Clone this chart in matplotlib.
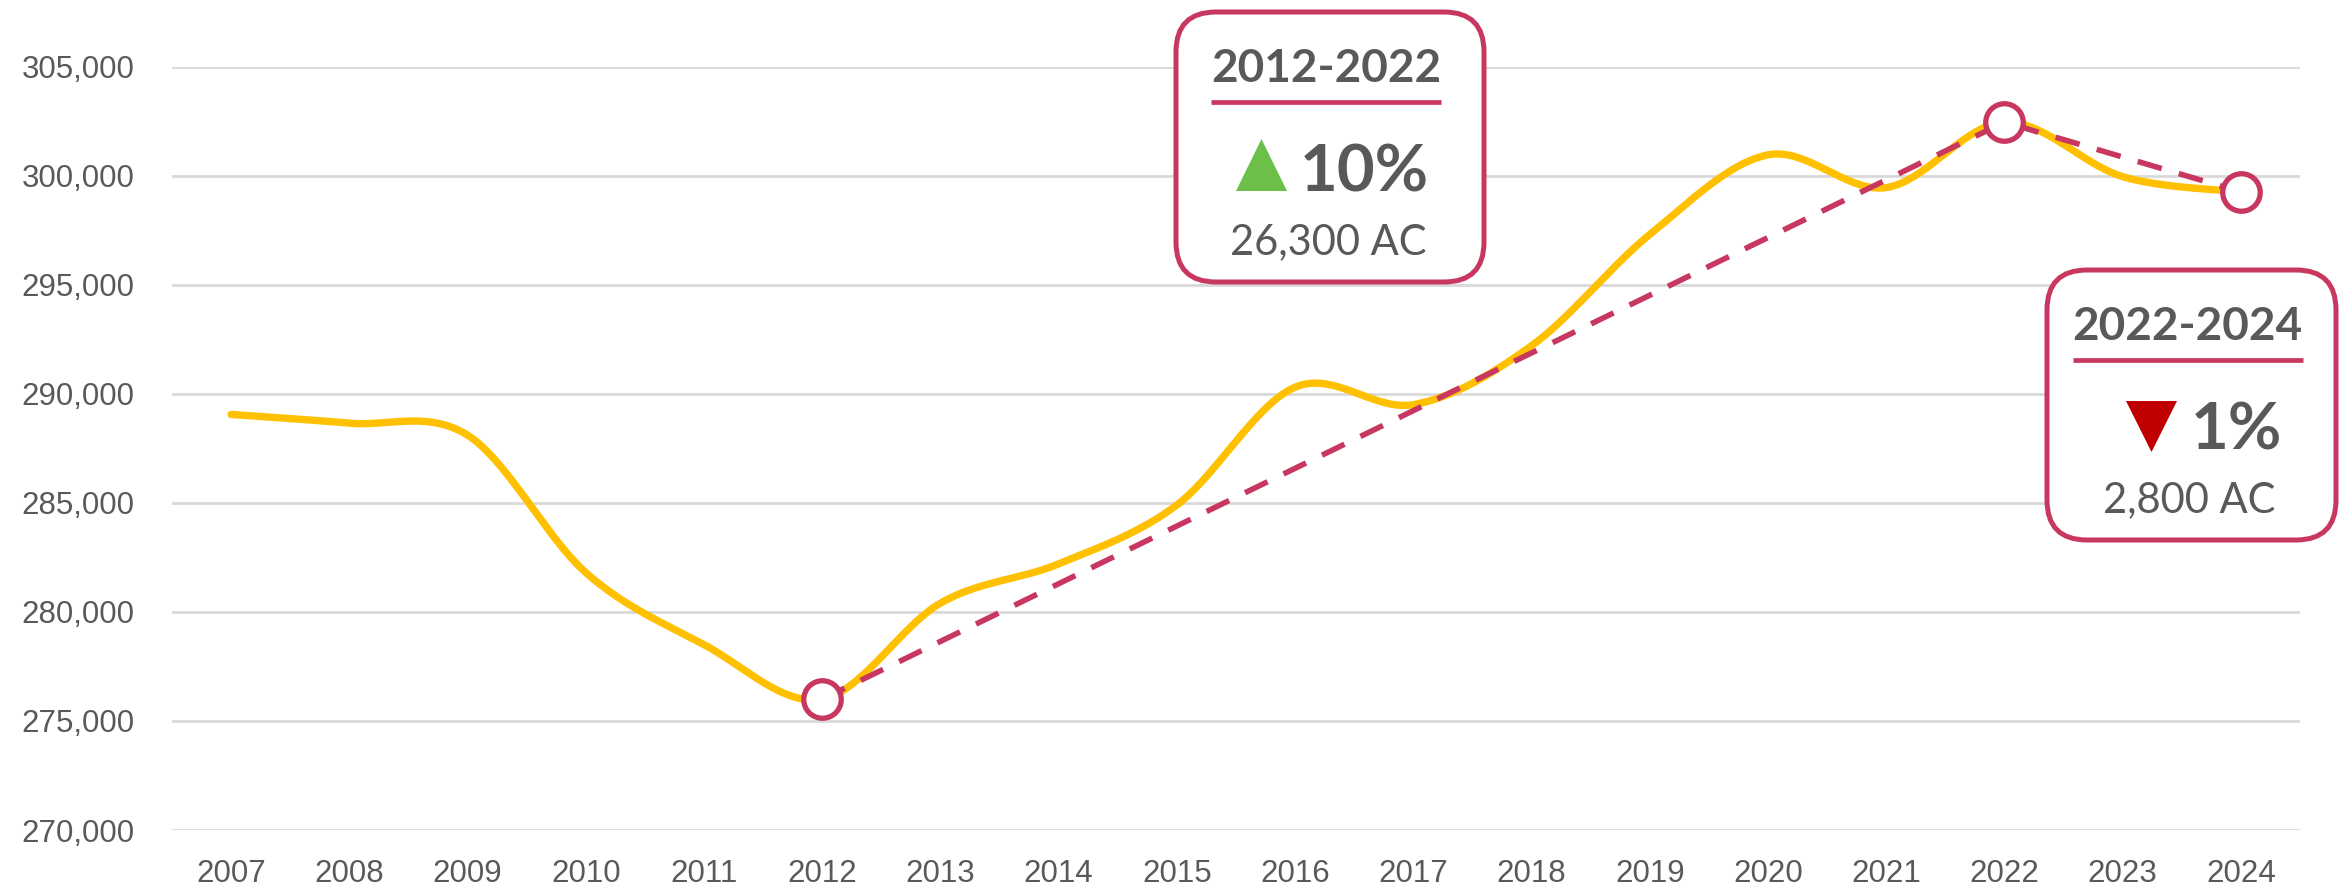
import numpy as np
import matplotlib.pyplot as plt
from matplotlib.patches import FancyBboxPatch, Polygon

# data
years = [str(y) for y in range(2007, 2025)]
values = [289050, 288650, 288100, 281800, 278500, 276000, 280400, 282200, 284900,
          290300, 289500, 292200, 297300, 300950, 299450, 302450, 299950, 299250]

trend_years = ['2012', '2022', '2024']
trend_values = [276000, 302450, 299250]

yticks = list(range(270000, 305001, 5000))

callout_titles = ['2012-2022', '2022-2024']
callout_pcts = ['10%', '1%']
callout_counts = ['26,300 AC', '2,800 AC']
callout_dirs = ['up', 'down']

W, H = 2341, 889
GOLD = '#FFC000'
CRIMSON = '#C8375F'
GREY = '#595959'


def smooth(xs, ys, n=40):
    # excel style smoothed line (bezier through points)
    pts = np.column_stack([xs, ys]).astype(float)
    ext = np.vstack([pts[0], pts, pts[-1]])
    segs = []
    t = np.linspace(0, 1, n)[:, None]
    for i in range(len(pts) - 1):
        p0, p1, p2, p3 = ext[i], ext[i + 1], ext[i + 2], ext[i + 3]
        c1 = p1 + (p2 - p0) / 6
        c2 = p2 - (p3 - p1) / 6
        segs.append((1 - t) ** 3 * p1 + 3 * (1 - t) ** 2 * t * c1 + 3 * (1 - t) * t ** 2 * c2 + t ** 3 * p2)
    s = np.vstack(segs)
    return s[:, 0], s[:, 1]


fig = plt.figure(figsize=(W / 100, H / 100), dpi=100)
ax = fig.add_axes([172 / W, (H - 830) / H, (2300 - 172) / W, (830 - 66.5) / H])

x = np.arange(len(years))
sx, sy = smooth(x, values)
ax.plot(sx, sy, color=GOLD, lw=5.3, solid_capstyle='round', zorder=2)

tx = [years.index(y) for y in trend_years]
ax.plot(tx, trend_values, color=CRIMSON, lw=4.0, dashes=(4.5, 3.2),
        dash_capstyle='butt', zorder=3)
ax.plot(tx, trend_values, 'o', ms=27, mfc='white', mec=CRIMSON, mew=3.8,
        ls='none', zorder=4)

ax.set_xlim(-0.5, len(years) - 0.5)
ax.set_ylim(270000, 305000)
ax.set_xticks(x)
ax.set_xticklabels(years)
ax.set_yticks(yticks)
ax.set_yticklabels([f'{v:,}' for v in yticks])
ax.grid(axis='y', color='#D9D9D9', lw=2)
ax.set_axisbelow(True)
for sp in ax.spines.values():
    sp.set_visible(False)
ax.tick_params(length=0, labelsize=22.5, labelcolor=GREY)
ax.tick_params(axis='y', pad=27)
ax.tick_params(axis='x', pad=21)
for lab in ax.get_xticklabels() + ax.get_yticklabels():
    lab.set_family('Liberation Sans')

# callout boxes drawn in pixel coordinates
ov = fig.add_axes([0, 0, 1, 1], zorder=5)
ov.set_xlim(0, W)
ov.set_ylim(H, 0)
ov.axis('off')
ov.patch.set_alpha(0)

boxes = [(1176, 12, 1484, 282), (2047, 270, 2336, 540)]
for i, (x0, y0, x1, y1) in enumerate(boxes):
    ov.add_patch(FancyBboxPatch((x0, y0), x1 - x0, y1 - y0,
                                boxstyle='round,pad=0,rounding_size=40',
                                fc='white', ec=CRIMSON, lw=3.6))
    cx = (x0 + x1) / 2 - 4
    ov.text(cx, y0 + 70, callout_titles[i], ha='center', va='baseline',
            fontsize=33, fontweight='bold', family='Lato', color=GREY)
    ov.plot([cx - 115, cx + 115], [y0 + 90, y0 + 90], color=CRIMSON, lw=3.4,
            solid_capstyle='butt')
    if callout_dirs[i] == 'up':
        tri = [(x0 + 60, y0 + 179), (x0 + 111, y0 + 179), (x0 + 85.5, y0 + 127)]
        col = '#6CC04A'
        tx0 = x0 + 124
    else:
        tri = [(x0 + 79, y0 + 131), (x0 + 130, y0 + 131), (x0 + 104.5, y0 + 182)]
        col = '#C00000'
        tx0 = x0 + 144
    ov.add_patch(Polygon(tri, closed=True, fc=col, ec='none'))
    ov.text(tx0, y0 + 180, callout_pcts[i], ha='left', va='baseline',
            fontsize=47, fontweight='bold', family='Lato', color=GREY)
    ov.text(cx + 2, y0 + 242, callout_counts[i], ha='center', va='baseline',
            fontsize=30, family='Lato', color=GREY)

fig.savefig('out.png', dpi=100, facecolor='white')
